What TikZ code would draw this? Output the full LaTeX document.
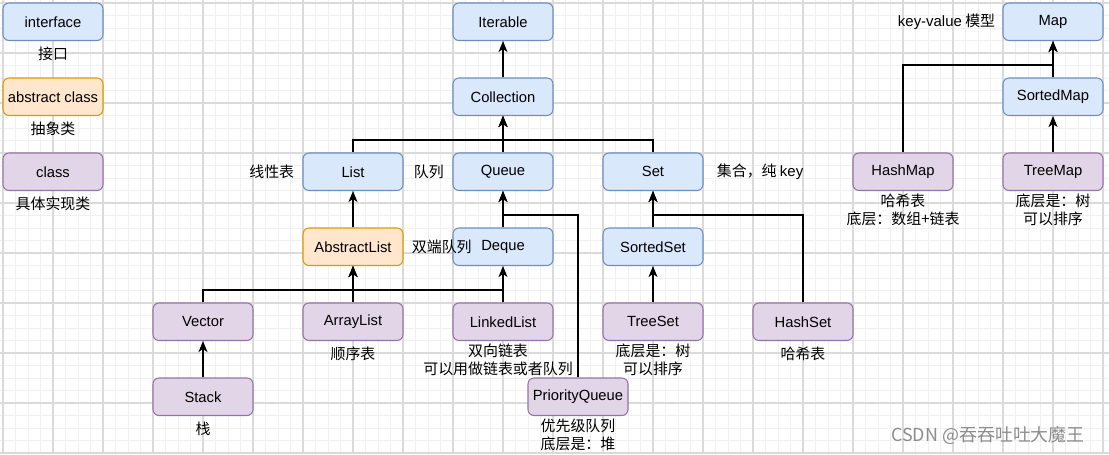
\documentclass[tikz,border=0pt]{standalone}
\usepackage{fontspec}
\setmainfont{Liberation Sans}
\newfontfamily\cjk{Noto Sans CJK SC}
\usetikzlibrary{arrows.meta}

\definecolor{ifacefill}{HTML}{DAE8FC}
\definecolor{ifacedraw}{HTML}{6C8EBF}
\definecolor{absfill}{HTML}{FFE6CC}
\definecolor{absdraw}{HTML}{D79B00}
\definecolor{implfill}{HTML}{E1D5E7}
\definecolor{impldraw}{HTML}{9673A6}
\definecolor{minorline}{HTML}{F0F0F0}
\definecolor{majorline}{HTML}{DADADA}

\begin{document}
\begin{tikzpicture}[
    box/.style={rectangle,rounded corners=0.12cm,minimum width=2cm,minimum height=0.75cm,
        inner sep=0pt,line width=0.6pt,font=\fontsize{8.4}{10}\selectfont},
    iface/.style={box,draw=ifacedraw,fill=ifacefill},
    abstr/.style={box,draw=absdraw,fill=absfill},
    impl/.style={box,draw=impldraw,fill=implfill},
    note/.style={inner sep=0pt,align=center,font=\cjk\fontsize{8.5}{10.2}\selectfont},
    link/.style={-{Stealth[length=0.22cm,width=0.18cm,inset=0.06cm]},line width=0.75pt},
    minorgrid/.style={draw=minorline,line width=0.5pt},
    majorgrid/.style={draw=majorline,line width=0.6pt},
    watermark/.style={inner sep=0pt,text=black!45,font=\cjk\fontsize{10.2}{12}\selectfont}]
                \useasboundingbox(-1.06, 0.435) rectangle (21.12, -8.645);
                % background grid
                \begin{scope}[shift={(-1, 0.375)}]
                \draw[minorgrid](-0.06, -9.02) grid[step=0.25] (22.12, 0.06);
                \draw[majorgrid](-0.06, -9.02) grid[step=1] (22.12, 0.06);
                \end{scope}
                % legend
                \node[iface](interface)at(0, 0){interface};
                \node[abstr](abstract)at(0, -1.5){abstract class};
                \node[impl](class)at(0, -3){class};
                % collections
                \node[iface](Iterable)at(9, 0){Iterable};
                \node[iface](Collection)at(9, -1.5){Collection};
                \node[iface](List)at(6, -3){List};
                \node[iface](Queue)at(9, -3){Queue};
                \node[iface](Set)at(12, -3){Set};
                \node[abstr](AbstractList)at(6, -4.5){AbstractList};
                \node[iface](Deque)at(9, -4.5){Deque};
                \node[iface](SortedSet)at(12, -4.5){SortedSet};
                \node[impl](Vector)at(3, -6){Vector};
                \node[impl](ArrayList)at(6, -6){ArrayList};
                \node[impl](LinkedList)at(9, -6){LinkedList};
                \node[impl](TreeSet)at(12, -6){TreeSet};
                \node[impl](HashSet)at(15, -6){HashSet};
                \node[impl](Stack)at(3, -7.5){Stack};
                \node[impl](PriorityQueue)at(10.5, -7.5){PriorityQueue};
                % maps
                \node[iface](Map)at(20, 0){Map};
                \node[iface](SortedMap)at(20, -1.5){SortedMap};
                \node[impl](HashMap)at(17, -3){HashMap};
                \node[impl](TreeMap)at(20, -3){TreeMap};
                % inheritance
                \draw[link](Collection.north) -- (Iterable.south);
                \draw[link](List.north) -- ++(0, 0.25) -| (Collection.south);
                \draw[link](Queue.north) -- (Collection.south);
                \draw[link](Set.north) -- ++(0, 0.25) -| (Collection.south);
                \draw[link](AbstractList.north) -- (List.south);
                \draw[link](Deque.north) -- (Queue.south);
                \draw[link](PriorityQueue.north) |- ([yshift=0.25cm]Deque.north) -- (Queue.south);
                \draw[link](SortedSet.north) -- (Set.south);
                \draw[link](HashSet.north) |- ([yshift=0.25cm]SortedSet.north) -- (Set.south);
                \draw[link](Vector.north) -- ++(0, 0.25) -| (AbstractList.south);
                \draw[link](ArrayList.north) -- (AbstractList.south);
                \draw[link](LinkedList.north) -- ++(0, 0.25) -| (AbstractList.south);
                \draw[link](LinkedList.north) -- (Deque.south);
                \draw[link](TreeSet.north) -- (SortedSet.south);
                \draw[link](Stack.north) -- (Vector.south);
                \draw[link](SortedMap.north) -- (Map.south);
                \draw[link](HashMap.north) |- ([yshift=0.25cm]SortedMap.north) -- (Map.south);
                \draw[link](TreeMap.north) -- (SortedMap.south);
                % notes
                \node[note](ifaceNote)at([yshift=-0.25cm]interface.south){接口};
                \node[note](absNote)at([yshift=-0.25cm]abstract.south){抽象类};
                \node[note](classNote)at([yshift=-0.25cm]class.south){具体实现类};
                \node[note,anchor=east](ListNote)at([xshift=-0.16cm]List.west){线性表};
                \node[note,anchor=west](QueueNote)at([xshift=0.2cm]List.east){队列};
                \node[note,anchor=west](SetNote)at([xshift=0.26cm]Set.east){集合，纯 {\rmfamily key}};
                \node[note,anchor=west](DequeNote)at([xshift=0.16cm]AbstractList.east){双端队列};
                \node[note,anchor=east](MapNote)at([xshift=-0.14cm]Map.west){{\rmfamily key-value} 模型};
                \node[note](ArrayListNote)at([yshift=-0.25cm]ArrayList.south){顺序表};
                \node[note](LinkedListNote)at([xshift=-0.1cm,yshift=-0.37cm]LinkedList.south){双向链表\\可以用做链表或者队列};
                \node[note](TreeSetNote)at([yshift=-0.37cm]TreeSet.south){底层是：树\\可以排序};
                \node[note](HashSetNote)at([yshift=-0.25cm]HashSet.south){哈希表};
                \node[note](StackNote)at([yshift=-0.25cm]Stack.south){栈};
                \node[note](PriorityQueueNote)at([yshift=-0.37cm]PriorityQueue.south){优先级队列\\底层是：堆};
                \node[note](HashMapNote)at([yshift=-0.37cm]HashMap.south){哈希表\\底层：数组+链表};
                \node[note](TreeMapNote)at([yshift=-0.37cm]TreeMap.south){底层是：树\\可以排序};
                \node[watermark](csdn)at(18.7, -8.265){CSDN @吞吞吐吐大魔王};
            \end{tikzpicture}
\end{document}
